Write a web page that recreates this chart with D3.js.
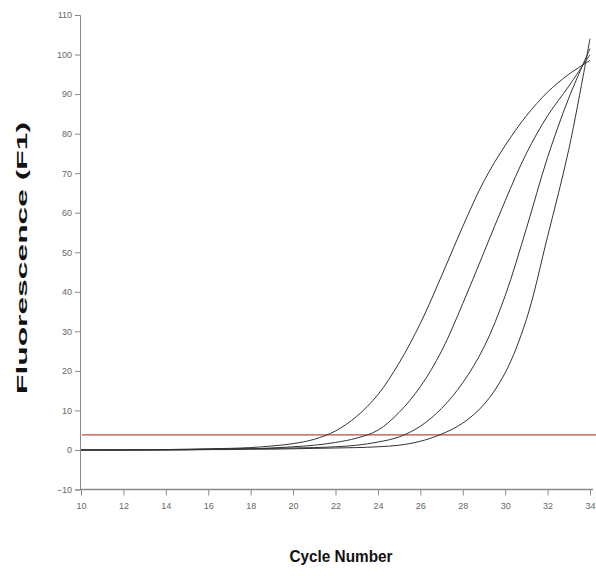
<!DOCTYPE html>
<html>
<head>
<meta charset="utf-8">
<script src="https://cdn.jsdelivr.net/npm/d3@7"></script>
<style>
  body { margin: 0; background: #fff; }
  svg text { font-family: "Liberation Sans Narrow", "Liberation Sans", Arial, sans-serif; }
</style>
</head>
<body>
<svg id="chart" width="596" height="576"></svg>
<script>
// Amplification curves, fluorescence per cycle
const cycles = d3.range(10, 35);
const curveA = [0, 0, 0, 0.1, 0.1, 0.2, 0.3, 0.4, 0.6, 1.0, 1.6, 2.7, 4.8, 8.5, 14, 22, 32, 44, 56.5, 68, 77, 84.5, 90.5, 95, 98.5];
const curveB = [0, 0, 0, 0, 0.1, 0.1, 0.2, 0.3, 0.3, 0.5, 0.8, 1.2, 1.9, 3.0, 5.0, 9.5, 16, 25, 37, 50, 63, 75, 84.5, 92, 100];
const curveC = [0, 0, 0, 0, 0, 0.1, 0.1, 0.2, 0.3, 0.4, 0.5, 0.6, 0.8, 1.2, 2.0, 3.3, 6.0, 10.5, 17, 26, 39, 56, 74, 89, 101.5];
const curveD = [0, 0, 0, 0, 0, 0, 0.1, 0.1, 0.2, 0.2, 0.3, 0.4, 0.5, 0.6, 0.8, 1.2, 2.2, 4.0, 6.8, 11.5, 19.5, 33, 54, 76, 104];
const series = [curveA, curveB, curveC, curveD];
const threshold = 3.8;

const xTicks = [10, 12, 14, 16, 18, 20, 22, 24, 26, 28, 30, 32, 34];
const yTicks = [-10, 0, 10, 20, 30, 40, 50, 60, 70, 80, 90, 100, 110];

const svg = d3.select('#chart');
const x = d3.scaleLinear().domain([10, 34]).range([81, 590]);
const y = d3.scaleLinear().domain([-10, 110]).range([489.5, 15]);

// Y axis
const yAxis = svg.append('g')
  .attr('transform', 'translate(80,0)')
  .call(d3.axisLeft(y).tickValues(yTicks).tickSize(5).tickPadding(3));
yAxis.select('.domain').attr('stroke', '#888');
yAxis.selectAll('.tick line').attr('stroke', '#888');
yAxis.selectAll('.tick text').attr('fill', '#666').attr('font-size', 9);

// X axis
const xAxis = svg.append('g')
  .attr('transform', 'translate(0,489.5)')
  .call(d3.axisBottom(x).tickValues(xTicks).tickSize(6).tickPadding(7));
xAxis.select('.domain').attr('stroke', '#888').attr('stroke-width', 1.5)
  .attr('d', 'M80,0H593');
xAxis.selectAll('.tick line').attr('stroke', '#888');
xAxis.selectAll('.tick text').attr('fill', '#666').attr('font-size', 9);

// Threshold line
svg.append('line')
  .attr('x1', 82).attr('x2', 596)
  .attr('y1', y(threshold)).attr('y2', y(threshold))
  .attr('stroke', '#b94a48').attr('stroke-width', 1.3);

// Curves
const line = d3.line()
  .x((d, i) => x(cycles[i]))
  .y(d => y(d))
  .curve(d3.curveCatmullRom.alpha(0.5));

svg.append('g').selectAll('path')
  .data(series)
  .join('path')
  .attr('d', line)
  .attr('fill', 'none')
  .attr('stroke', '#333')
  .attr('stroke-width', 1);

// Axis titles
svg.append('text')
  .attr('transform', 'translate(27,258) rotate(-90)')
  .attr('text-anchor', 'middle')
  .attr('font-family', '"Liberation Sans", Arial, sans-serif')
  .attr('font-weight', 'bold')
  .attr('font-size', 15)
  .attr('textLength', 272)
  .attr('lengthAdjust', 'spacingAndGlyphs')
  .attr('fill', '#111')
  .text('Fluorescence (F1)');

svg.append('text')
  .attr('x', 341).attr('y', 562)
  .attr('text-anchor', 'middle')
  .attr('font-weight', 'bold')
  .attr('font-size', 17)
  .attr('textLength', 103)
  .attr('lengthAdjust', 'spacingAndGlyphs')
  .attr('fill', '#111')
  .text('Cycle Number');
</script>
</body>
</html>
